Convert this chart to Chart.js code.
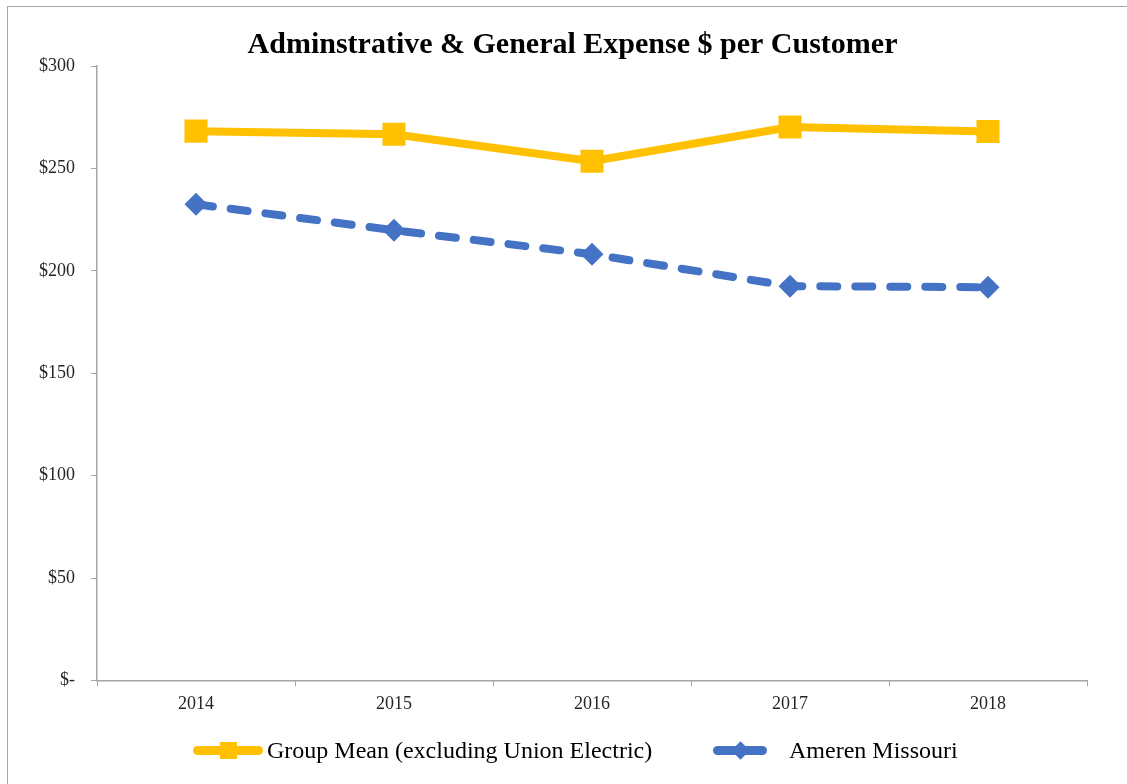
<!DOCTYPE html>
<html>
<head>
<meta charset="utf-8">
<script src="https://cdn.jsdelivr.net/npm/chart.js@4.4.0/dist/chart.umd.min.js"></script>
<style>
  body { margin: 0; background: #fff; }
  #wrap { position: relative; width: 1127px; height: 784px; overflow: hidden; }
  #frame { position: absolute; left: 7px; top: 6px; width: 1130px; height: 790px; border: 1px solid #a6a6a6; box-sizing: border-box; }
  canvas { position: absolute; left: 0; top: 0; }
  .leg { position: absolute; top: 736px; height: 28px; font-family: "Liberation Serif", serif; font-size: 24px; color: #000; line-height: 28px; white-space: nowrap; }
  .leg .line { position: absolute; top: 10px; height: 9px; border-radius: 5px; }
  .leg .mark { position: absolute; }
  .leg span.txt { position: absolute; top: 0; }
</style>
</head>
<body>
<div id="wrap">
  <div id="frame"></div>
  <canvas id="chart" width="1127" height="784"></canvas>
  <div class="leg" style="left:0">
    <div class="line" style="left:193px;width:70px;background:#FFC000"></div>
    <div class="mark" style="left:220px;top:6px;width:17px;height:17px;background:#FFC000"></div>
    <span class="txt" style="left:267px">Group Mean (excluding Union Electric)</span>
  </div>
  <div class="leg" style="left:0">
    <div class="line" style="left:713px;width:54px;background:#4472C4"></div>
    <div class="mark" style="left:734px;top:8px;width:13px;height:13px;background:#4472C4;transform:rotate(45deg)"></div>
    <span class="txt" style="left:789px">Ameren Missouri</span>
  </div>
</div>
<script>
const years = ['2014', '2015', '2016', '2017', '2018'];
const groupMean = [268.2, 266.7, 253.5, 270.2, 268.0];
const amerenMissouri = [232.5, 219.8, 208.1, 192.5, 192.0];
const yTicks = [0, 50, 100, 150, 200, 250, 300];

const axisGray = '#a6a6a6';
const tickFont = { family: 'Liberation Serif', size: 18 };

// nudge the title a bit to the right, like the original
const shiftTitle = {
  id: 'shiftTitle',
  afterLayout(chart) {
    if (chart.titleBlock) {
      chart.titleBlock.left += 29;
      chart.titleBlock.right += 29;
    }
  }
};

new Chart(document.getElementById('chart'), {
  type: 'line',
  data: {
    labels: years,
    datasets: [
      {
        label: 'Group Mean (excluding Union Electric)',
        data: groupMean,
        borderColor: '#FFC000',
        backgroundColor: '#FFC000',
        borderWidth: 8,
        pointStyle: 'rect',
        pointRadius: 16.3,
        pointHoverRadius: 16.3,
        pointBorderWidth: 0,
        tension: 0
      },
      {
        label: 'Ameren Missouri',
        data: amerenMissouri,
        borderColor: '#4472C4',
        backgroundColor: '#4472C4',
        borderWidth: 8,
        borderDash: [17, 18],
        borderCapStyle: 'round',
        pointStyle: 'rectRot',
        pointRadius: 11.5,
        pointHoverRadius: 11.5,
        pointBorderWidth: 0,
        tension: 0
      }
    ]
  },
  plugins: [shiftTitle],
  options: {
    responsive: false,
    animation: false,
    layout: { padding: { left: 0, right: 40, top: 0, bottom: 62 } },
    plugins: {
      legend: { display: false },
      tooltip: { enabled: false },
      title: {
        display: true,
        text: 'Adminstrative & General Expense $ per Customer',
        color: '#000',
        font: { family: 'Liberation Serif', size: 30, weight: 'bold' },
        padding: { top: 27, bottom: 3 }
      }
    },
    scales: {
      x: {
        offset: true,
        grid: { offset: true, drawOnChartArea: false, drawTicks: true, tickLength: 6, color: axisGray },
        border: { display: true, color: axisGray, width: 1.5 },
        ticks: { color: '#262626', font: tickFont, padding: 7, maxRotation: 0 }
      },
      y: {
        min: 0,
        max: 300,
        afterFit: s => { s.width = 97; },
        afterBuildTicks: s => { s.ticks = yTicks.map(v => ({ value: v })); },
        grid: { drawOnChartArea: false, drawTicks: true, tickLength: 6, color: axisGray },
        border: { display: true, color: axisGray, width: 1.5 },
        ticks: {
          color: '#262626',
          font: tickFont,
          padding: 16,
          callback: v => v === 0 ? '$-' : '$' + v
        }
      }
    }
  }
});
</script>
</body>
</html>
